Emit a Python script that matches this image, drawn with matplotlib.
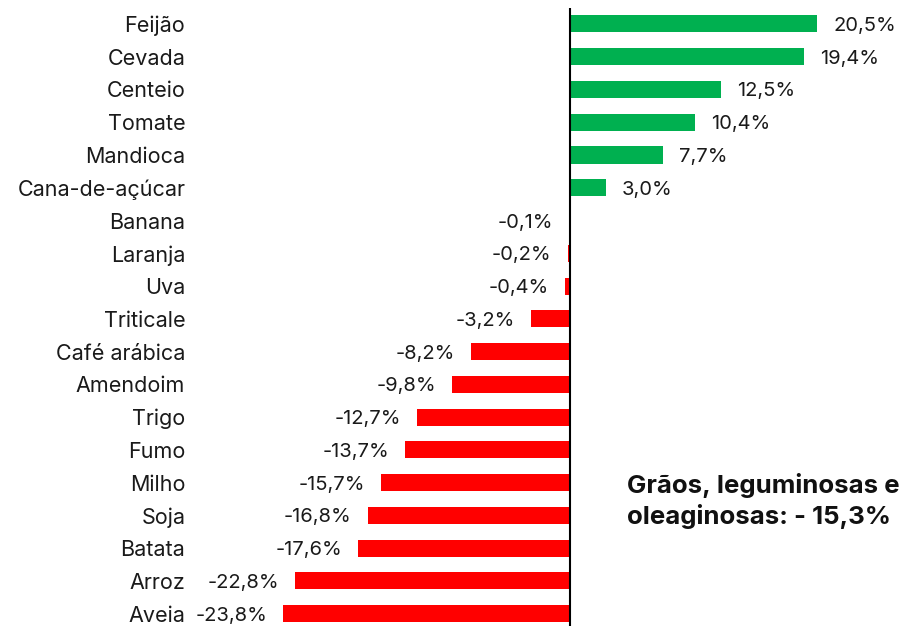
import matplotlib.pyplot as plt

# dados
culturas = ['Feijão', 'Cevada', 'Centeio', 'Tomate', 'Mandioca', 'Cana-de-açúcar',
            'Banana', 'Laranja', 'Uva', 'Triticale', 'Café arábica', 'Amendoim',
            'Trigo', 'Fumo', 'Milho', 'Soja', 'Batata', 'Arroz', 'Aveia']
variacao = [20.5, 19.4, 12.5, 10.4, 7.7, 3.0, -0.1, -0.2, -0.4, -3.2, -8.2, -9.8,
            -12.7, -13.7, -15.7, -16.8, -17.6, -22.8, -23.8]
nota = 'Grãos, leguminosas e\noleaginosas: - 15,3%'

plt.rcParams['font.family'] = ['Inter', 'DejaVu Sans']

W, H = 904, 626
fig = plt.figure(figsize=(W / 100, H / 100), dpi=100)
x_left, x_right, x_zero, px_per = 195, 890, 570, 12.05
y_top, y_bot = 7.6, 630
ax = fig.add_axes([x_left / W, (H - y_bot) / H, (x_right - x_left) / W, (y_bot - y_top) / H])

pos = list(range(len(culturas)))
cores = ['#00B050' if v >= 0 else '#FF0000' for v in variacao]
ax.barh(pos, variacao, height=0.52, color=cores)

ax.set_xlim(-(x_zero - x_left) / px_per, (x_right - x_zero) / px_per)
ax.set_ylim(len(culturas) - 0.5, -0.5)
ax.axvline(0, color='black', linewidth=1.5)

for s in ax.spines.values():
    s.set_visible(False)
ax.set_xticks([])
ax.set_yticks(pos)
ax.set_yticklabels(culturas, fontsize=15.5, color='#1a1a1a')
ax.tick_params(axis='y', length=0, pad=7)

for p, v in zip(pos, variacao):
    txt = ('%.1f%%' % v).replace('.', ',')
    if v >= 0:
        ax.annotate(txt, (v, p), xytext=(16, -2), textcoords='offset pixels',
                    ha='left', va='center', fontsize=14.5, color='#1a1a1a')
    else:
        ax.annotate(txt, (v, p), xytext=(-16, -2), textcoords='offset pixels',
                    ha='right', va='center', fontsize=14.5, color='#1a1a1a')

fig.text(627 / W, (H - 501) / H, nota, ha='left', va='center', fontsize=18.6,
         fontweight='bold', linespacing=1.32, color='#111111')

fig.savefig('out.png', dpi=100)
